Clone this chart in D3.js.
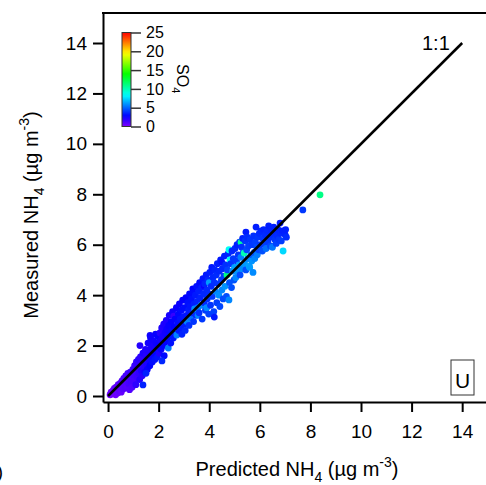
<!DOCTYPE html>
<html>
<head>
<meta charset="utf-8">
<script src="https://cdn.jsdelivr.net/npm/d3@7"></script>
<style>
body { margin: 0; background: #fff; }
svg { display: block; font-family: "Liberation Sans", Arial, sans-serif; }
</style>
</head>
<body>
<div id="graf"></div>
<script>
const prediccion = [
  0.08,0.12,0.15,0.2,0.22,0.25,0.28,0.3,0.32,0.35,0.38,0.4,0.42,0.45,0.48,0.5,0.52,0.55,0.58,0.6,0.62,0.65,0.68,0.7,0.72,0.75,0.78,0.8,0.82,0.85,0.88,0.9,0.92,0.95,0.98,1.0,
  1.02,1.05,1.08,1.1,1.12,1.15,1.18,1.2,1.22,1.25,1.28,1.3,1.32,1.35,1.38,1.4,1.42,1.45,1.48,1.5,1.52,1.55,1.58,1.6,1.62,1.65,1.68,1.7,1.72,1.75,1.78,1.8,1.82,1.85,1.88,1.9,1.92,1.95,1.98,2.0,1.26,1.66,1.5,1.38,
  2.02,2.05,2.08,2.1,2.12,2.15,2.18,2.2,2.22,2.25,2.28,2.3,2.32,2.35,2.38,2.4,2.42,2.45,2.48,2.5,2.52,2.55,2.58,2.6,2.62,2.65,2.68,2.7,2.72,2.75,2.78,2.8,2.82,2.85,2.88,2.9,2.92,2.95,2.98,3.0,2.13,
  3.02,3.05,3.08,3.1,3.12,3.15,3.18,3.2,3.22,3.25,3.28,3.3,3.32,3.35,3.36,3.38,3.4,3.42,3.45,3.48,3.5,3.52,3.55,3.56,3.58,3.6,3.62,3.65,3.68,3.7,3.72,3.75,3.78,3.8,3.8,3.82,3.85,3.88,3.9,3.9,3.92,3.95,3.98,4.0,4.0,
  4.02,4.05,4.08,4.1,4.12,4.15,4.18,4.2,4.2,4.22,4.25,4.28,4.3,4.32,4.35,4.38,4.4,4.42,4.45,4.48,4.5,4.5,4.52,4.55,4.58,4.6,4.62,4.65,4.68,4.7,4.72,4.75,4.78,4.78,4.8,4.82,4.85,4.88,4.9,4.92,4.95,4.98,5.0,
  5.02,5.05,5.08,5.1,5.12,5.15,5.18,5.2,5.22,5.25,5.26,5.28,5.3,5.32,5.35,5.38,5.4,5.42,5.45,5.45,5.48,5.5,5.52,5.55,5.58,5.6,5.62,5.65,5.68,5.7,5.73,5.75,5.78,5.8,5.82,5.85,5.88,5.9,5.92,5.95,5.98,
  6.02,6.05,6.1,6.12,6.15,6.2,6.22,6.25,6.3,6.32,6.35,6.4,6.42,6.45,6.5,6.5,6.55,6.6,6.62,6.65,6.7,6.72,6.75,6.8,6.82,6.85,6.9,6.92,7.0,7.02,7.05,7.7,8.38
]
const medicion = [
  0.05,0.15,0.08,0.22,0.12,0.3,0.18,0.05,0.35,0.22,0.12,0.45,0.3,0.2,0.5,0.36,0.15,0.6,0.42,0.28,0.7,0.5,0.32,0.8,0.58,0.4,0.9,0.65,0.48,0.25,0.95,0.72,0.55,0.35,1.05,0.82,
  0.6,1.2,0.95,0.45,1.35,0.75,1.1,1.45,0.9,0.65,1.55,1.25,1.0,0.8,1.7,1.4,1.15,0.95,1.85,1.6,1.3,1.05,2.1,1.75,1.45,1.2,2.3,1.9,1.6,1.35,2.2,2.0,1.7,1.45,2.45,2.1,1.8,1.55,2.35,2.0,2.0,2.4,0.9,0.44,
  1.7,2.5,2.2,1.85,2.7,2.35,2.0,2.85,1.6,2.5,2.15,3.0,2.65,2.3,1.9,2.8,3.2,2.45,2.1,2.95,2.6,3.35,2.3,3.17,2.75,3.05,2.45,3.5,2.42,2.9,3.25,2.6,3.65,3.05,2.75,3.4,2.45,3.8,3.15,2.85,1.39,
  3.5,2.6,3.9,3.2,2.95,3.7,3.4,2.8,4.05,3.55,3.1,3.85,3.3,4.25,4.09,2.95,3.65,3.45,4.0,3.2,4.35,3.75,3.5,3.2,4.15,3.3,4.5,3.9,3.6,4.3,3.05,4.65,4.05,3.7,4.37,4.45,3.4,4.8,3.5,4.2,3.85,4.6,3.25,4.5,4.05,
  4.9,3.6,4.35,5.1,3.95,4.7,3.35,3.13,4.5,5.0,4.15,4.8,3.7,5.25,4.45,4.0,4.95,3.55,5.4,4.6,5.3,4.2,5.05,3.85,4.75,5.55,4.35,5.2,3.95,4.8,5.0,5.65,3.81,5.8,4.5,5.4,5.25,4.3,5.75,4.95,5.45,4.6,5.1,
  5.85,4.7,5.35,6.0,4.95,5.6,5.2,6.1,4.8,5.5,6.1,5.9,5.05,6.25,5.7,5.67,5.25,6.15,6.5,5.0,5.8,6.3,5.45,5.95,5.15,5.1,6.2,5.6,5.35,6.0,4.9,6.35,5.7,5.45,6.1,6.7,5.9,5.6,6.3,5.8,6.45,
  6.0,6.55,5.75,6.25,6.6,6.0,6.4,5.85,6.55,6.15,6.75,6.3,5.95,6.6,5.9,6.4,6.7,6.2,6.5,6.05,6.35,6.6,6.2,6.86,6.45,6.15,6.55,5.75,6.4,6.6,6.3,7.38,7.98
]
const so4 = [
  0.3,0.4,0.3,0.5,0.4,0.6,0.5,0.4,0.7,0.6,0.5,0.8,0.6,0.7,0.9,0.7,0.6,1.0,0.8,0.9,1.1,0.9,1.0,1.2,1.0,0.9,1.3,1.1,1.2,1.0,1.4,1.2,1.3,1.1,1.5,1.4,
  1.3,1.6,1.4,1.8,1.7,1.5,1.6,1.9,1.7,2.0,1.8,1.6,2.1,1.9,2.2,1.8,2.0,2.4,2.1,2.0,2.2,2.6,2.3,2.1,2.4,2.8,2.5,2.2,2.6,3.0,2.4,2.3,2.7,3.1,2.6,2.5,2.9,3.2,2.7,2.6,2.0,2.5,3.5,3.5,
  2.2,2.0,2.4,2.6,2.1,2.3,2.8,2.2,3.0,2.4,2.7,2.2,2.5,2.9,5.5,2.6,2.3,3.0,3.1,2.7,3.0,2.5,3.2,1.6,2.8,2.7,3.2,2.6,5.6,3.0,2.9,3.3,2.6,3.1,3.4,3.0,3.5,2.7,3.2,3.4,3.6,
  3.0,3.6,2.8,3.2,5.6,3.1,3.3,3.8,2.9,3.2,5.2,3.1,3.5,2.8,3.0,3.9,3.4,5.8,3.3,3.7,3.1,3.5,5.4,5.6,3.4,3.8,3.0,3.5,5.7,3.4,4.0,3.2,3.6,3.7,2.6,3.5,4.1,3.3,5.8,3.6,3.8,3.6,4.2,6.2,3.7,
  3.4,3.9,3.7,3.3,4.0,3.6,4.2,3.3,3.8,3.5,5.6,3.7,4.1,3.4,3.9,5.9,3.6,4.3,3.3,4.0,3.1,5.7,3.7,4.4,4.0,3.4,6.0,3.8,4.5,11.0,4.2,3.5,5.7,8.5,4.6,8.5,3.9,4.5,3.6,5.8,4.0,4.6,6.3,
  3.6,5.7,4.0,3.4,6.0,3.9,6.3,3.7,4.4,5.5,10.5,3.8,5.8,3.5,4.2,10.0,6.1,3.9,3.3,4.5,4.3,3.7,5.6,4.1,6.4,6.2,3.9,4.6,6.0,4.0,5.8,3.8,4.5,5.7,4.1,3.4,4.4,5.5,3.9,4.3,3.7,
  4.0,3.6,4.5,3.9,3.5,4.1,3.7,5.2,3.6,4.0,3.4,3.8,4.4,3.5,5.4,3.7,3.4,3.9,3.6,4.2,3.7,3.5,4.0,3.3,3.6,4.1,3.4,7.5,3.5,3.4,3.7,4.0,11.0
]
const ticksX = [0, 2, 4, 6, 8, 10, 12, 14]
const ticksY = [0, 2, 4, 6, 8, 10, 12, 14]
const ticksSO4 = [0, 5, 10, 15, 20, 25]
const linea11 = [0, 14]

// Configuración de tamaños
const ancho = 486
const alto = 485

const svg = d3.select('#graf')
  .append('svg')
  .attr('width', ancho)
  .attr('height', alto)

const x = d3.scaleLinear().domain([-0.2, 15.1]).range([103, 490])
const y = d3.scaleLinear().domain([-0.238, 15.19]).range([402, 13])

// Escala de color tipo arcoíris (violeta -> rojo)
const color = d3.scaleSequential(t => d3.hsl(270 * (1 - t), 1, 0.5) + '')
  .domain([0, 25])

// Puntos
const datos = prediccion.map((p, i) => ({ p: p, m: medicion[i], s: so4[i] }))
svg.append('g')
  .selectAll('circle')
  .data(datos)
  .enter()
  .append('circle')
  .attr('cx', d => x(d.p))
  .attr('cy', d => y(d.m))
  .attr('r', 3.4)
  .attr('fill', d => color(d.s))

// Línea 1:1
svg.append('line')
  .attr('x1', x(linea11[0]))
  .attr('y1', y(linea11[0]))
  .attr('x2', x(linea11[1]))
  .attr('y2', y(linea11[1]))
  .attr('stroke', '#000')
  .attr('stroke-width', 2.5)

svg.append('text')
  .attr('x', 422)
  .attr('y', 50)
  .attr('font-size', 20)
  .text('1:1')

// Ejes
const ejeX = svg.append('g')
  .attr('transform', 'translate(0,402)')
  .call(d3.axisBottom(x).tickValues(ticksX).tickSize(10).tickSizeOuter(0).tickPadding(13))
const ejeY = svg.append('g')
  .attr('transform', 'translate(103,0)')
  .call(d3.axisLeft(y).tickValues(ticksY).tickSize(10).tickSizeOuter(0).tickPadding(6))

;[ejeX, ejeY].forEach(g => {
  g.selectAll('path, line').attr('stroke', '#000').attr('stroke-width', 2)
  g.selectAll('text').attr('font-size', 19).attr('fill', '#000')
    .attr('font-family', '"Liberation Sans", Arial, sans-serif')
})

// Borde superior
svg.append('line')
  .attr('x1', 102).attr('x2', 490)
  .attr('y1', 13).attr('y2', 13)
  .attr('stroke', '#000').attr('stroke-width', 2)

// Títulos de ejes
const tituloX = svg.append('text')
  .attr('x', 297)
  .attr('y', 476)
  .attr('text-anchor', 'middle')
  .attr('font-size', 20)
tituloX.append('tspan').text('Predicted NH')
tituloX.append('tspan').attr('dy', 6).attr('font-size', 14).text('4')
tituloX.append('tspan').attr('dy', -6).text(' (µg m')
tituloX.append('tspan').attr('dy', -9).attr('font-size', 14).text('-3')
tituloX.append('tspan').attr('dy', 9).text(')')

const tituloY = svg.append('text')
  .attr('transform', 'translate(38,215) rotate(-90)')
  .attr('text-anchor', 'middle')
  .attr('font-size', 20)
tituloY.append('tspan').text('Measured NH')
tituloY.append('tspan').attr('dy', 6).attr('font-size', 14).text('4')
tituloY.append('tspan').attr('dy', -6).text(' (µg m')
tituloY.append('tspan').attr('dy', -9).attr('font-size', 14).text('-3')
tituloY.append('tspan').attr('dy', 9).text(')')

// Barra de color
const defs = svg.append('defs')
const grad = defs.append('linearGradient')
  .attr('id', 'arcoiris')
  .attr('x1', 0).attr('y1', 1).attr('x2', 0).attr('y2', 0)
d3.range(0, 26, 1).forEach(v => {
  grad.append('stop').attr('offset', v / 25).attr('stop-color', color(v))
})

const c = d3.scaleLinear().domain([0, 25]).range([126.5, 32.5])
svg.append('rect')
  .attr('x', 122)
  .attr('y', c(25))
  .attr('width', 9)
  .attr('height', c(0) - c(25))
  .attr('fill', 'url(#arcoiris)')
  .attr('stroke', '#333')
  .attr('stroke-width', 1)

const ejeC = svg.append('g')
  .attr('transform', 'translate(131,0)')
  .call(d3.axisRight(c).tickValues(ticksSO4).tickSize(10).tickPadding(5))
ejeC.select('.domain').remove()
ejeC.selectAll('line').attr('stroke', '#333').attr('stroke-width', 1.5)
ejeC.selectAll('text').attr('font-size', 16).attr('fill', '#000')
  .attr('font-family', '"Liberation Sans", Arial, sans-serif')

const tituloC = svg.append('text')
  .attr('transform', 'translate(177,64) rotate(90)')
  .attr('font-size', 16)
tituloC.append('tspan').text('SO')
tituloC.append('tspan').attr('dy', 5).attr('font-size', 11).text('4')

// Recuadro "U"
svg.append('rect')
  .attr('x', 451).attr('y', 360)
  .attr('width', 23).attr('height', 35)
  .attr('fill', 'none').attr('stroke', '#333').attr('stroke-width', 1)
svg.append('text')
  .attr('x', 462.5).attr('y', 388)
  .attr('text-anchor', 'middle')
  .attr('font-size', 21)
  .text('U')

// Etiqueta del panel (cortada)
svg.append('text')
  .attr('x', 3).attr('y', 478)
  .attr('text-anchor', 'end')
  .attr('font-size', 19)
  .text('(b)')
</script>
</body>
</html>
